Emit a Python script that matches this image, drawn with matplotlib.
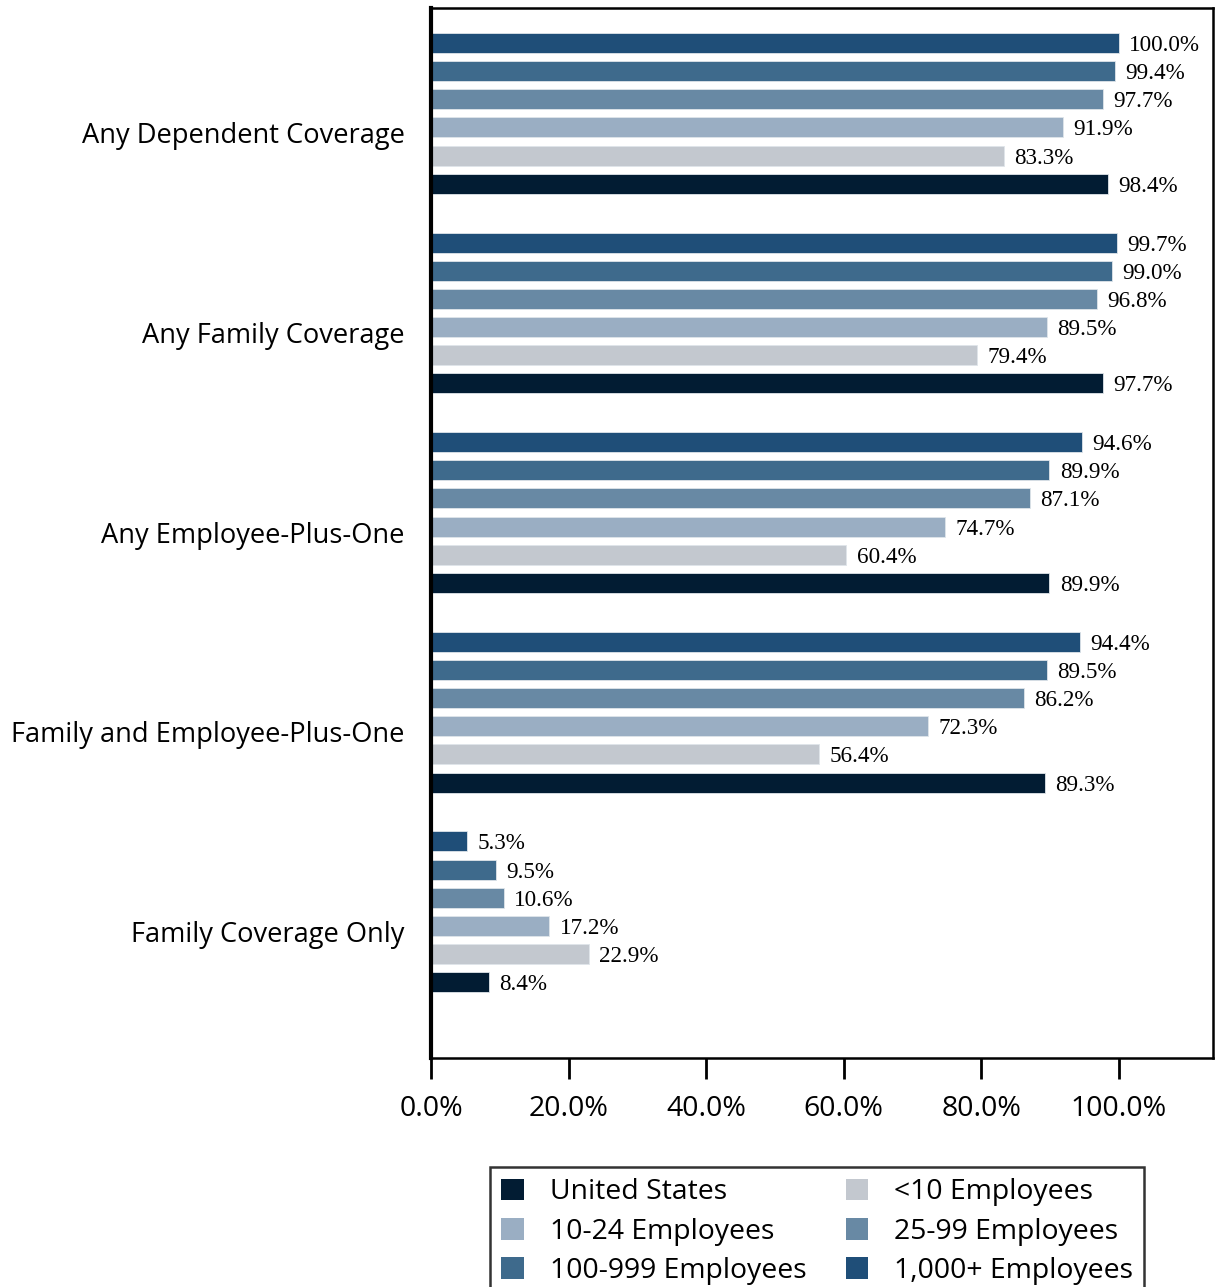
import matplotlib
matplotlib.use('Agg')
import matplotlib.pyplot as plt
from matplotlib.patches import Patch
import numpy as np

############################# Data #############################

categories = ['Any Dependent Coverage', 'Any Family Coverage', 'Any Employee-Plus-One',
              'Family and Employee-Plus-One', 'Family Coverage Only']

# series, listed top to bottom inside each group
series_names = ['1,000+ Employees', '100-999 Employees', '25-99 Employees',
                '10-24 Employees', '<10 Employees', 'United States']
series_colors = ['#1f4e78', '#3e6a8c', '#6889a4', '#9aaec3', '#c3c8cf', '#021c33']

v_1000_plus = [100.0, 99.7, 94.6, 94.4, 5.3]
v_100_999 = [99.4, 99.0, 89.9, 89.5, 9.5]
v_25_99 = [97.7, 96.8, 87.1, 86.2, 10.6]
v_10_24 = [91.9, 89.5, 74.7, 72.3, 17.2]
v_lt10 = [83.3, 79.4, 60.4, 56.4, 22.9]
v_us = [98.4, 97.7, 89.9, 89.3, 8.4]

series_values = [v_1000_plus, v_100_999, v_25_99, v_10_24, v_lt10, v_us]

x_ticks = [0, 20, 40, 60, 80, 100]

############################# Figure #############################

plt.rcParams['font.family'] = ['Open Sans', 'DejaVu Sans']

fig = plt.figure(figsize=(12.17, 12.87), dpi=100)
ax = fig.add_axes([431 / 1217, 1 - 1058 / 1287, (1213 - 431) / 1217, (1058 - 8) / 1287])

# bar layout inside a group (in category units)
c_step = 0.141
c_first = -0.451
c_height = 0.10
v_cat = np.arange(len(categories))

for j, (name, color, vals) in enumerate(zip(series_names, series_colors, series_values)):
    y = v_cat + c_first + j * c_step
    ax.barh(y, vals, height=c_height, color=color, edgecolor='#dfe5ea', linewidth=0.6)
    for yy, v in zip(y, vals):
        ax.text(v + 1.5, yy, f'{v:.1f}%', va='center_baseline', ha='left',
                fontsize=16.7, family='Liberation Serif', color='black')

ax.set_ylim(4.634, -0.626)
ax.set_xlim(0, 113.7)

ax.set_yticks(v_cat)
ax.set_yticklabels(categories, fontsize=19.6)
ax.tick_params(axis='y', length=0, pad=19)

ax.set_xticks(x_ticks)
ax.set_xticklabels([f'{t:.1f}%' for t in x_ticks], fontsize=20.5)
ax.tick_params(axis='x', length=15, width=2, direction='out', pad=12)

for side in ['top', 'right', 'bottom']:
    ax.spines[side].set_linewidth(1.8)
    ax.spines[side].set_color('black')
ax.spines['left'].set_linewidth(3)

############################# Legend #############################

# legend is filled row by row in the reference
order = ['United States', '10-24 Employees', '100-999 Employees',
         '<10 Employees', '25-99 Employees', '1,000+ Employees']
handles = [Patch(facecolor=series_colors[series_names.index(n)], label=n) for n in order]
leg = fig.legend(handles=handles, ncol=2, loc='upper left',
                 bbox_to_anchor=(490 / 1217, 1 - 1167 / 1287), borderaxespad=0,
                 fontsize=20.4, frameon=True, fancybox=False, edgecolor='black',
                 handlelength=0.8, handleheight=0.8, handletextpad=0.9,
                 columnspacing=1.4, labelspacing=0.4, borderpad=0.4)
leg.get_frame().set_linewidth(1.8)

fig.savefig('out.png', dpi=100)
